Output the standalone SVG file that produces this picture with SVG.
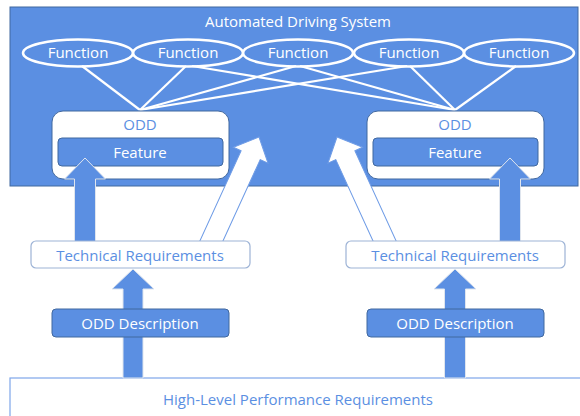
<svg xmlns="http://www.w3.org/2000/svg" width="580" height="416" viewBox="0 0 580 416">
<style>
text{font-family:"Open Sans","Noto Sans","Liberation Sans",sans-serif;font-size:15px;text-anchor:middle}
.w{fill:#ffffff}
.b{fill:#5B8FE2}
.fn{fill:none;stroke:#ffffff;stroke-width:2.5}
.ln{stroke:#ffffff;stroke-width:2.2;fill:none}
.odd{fill:#ffffff;stroke:#41689f;stroke-width:1}
.feat{fill:#5B8FE2;stroke:#41689f;stroke-width:1}
.treq{fill:#ffffff;stroke:#9db3d6;stroke-width:1.2}
.barr{fill:#5B8FE2;stroke:#dfe5ee;stroke-width:1}
.warr{fill:#ffffff;stroke:#6f9ce6;stroke-width:1}
</style>
<g id="ads">
<rect x="10" y="7" width="568" height="179" fill="#5B8FE2" stroke="#41689f" stroke-width="1"/>
<text x="298" y="27" class="w">Automated Driving System</text>
</g>
<g id="hlpr">
<rect x="10" y="378" width="580" height="50" fill="#ffffff" stroke="#7ea6ea" stroke-width="1.2"/>
<text x="298" y="405" class="b">High-Level Performance Requirements</text>
</g>
<g id="connectors">
<line class="ln" x1="82" y1="66" x2="140" y2="110"/>
<line class="ln" x1="186" y1="66" x2="140" y2="110"/>
<line class="ln" x1="296" y1="66" x2="140" y2="110"/>
<line class="ln" x1="407" y1="66" x2="140" y2="110"/>
<line class="ln" x1="192" y1="66" x2="455" y2="110"/>
<line class="ln" x1="300" y1="66" x2="455" y2="110"/>
<line class="ln" x1="410" y1="66" x2="455" y2="110"/>
<line class="ln" x1="516" y1="66" x2="455" y2="110"/>
</g>
<g id="func1"><ellipse class="fn" cx="78" cy="53" rx="55" ry="13.5"/><text x="78" y="58" class="w">Function</text></g>
<g id="func2"><ellipse class="fn" cx="188" cy="53" rx="55" ry="13.5"/><text x="188" y="58" class="w">Function</text></g>
<g id="func3"><ellipse class="fn" cx="298" cy="53" rx="55" ry="13.5"/><text x="298" y="58" class="w">Function</text></g>
<g id="func4"><ellipse class="fn" cx="409" cy="53" rx="55" ry="13.5"/><text x="409" y="58" class="w">Function</text></g>
<g id="func5"><ellipse class="fn" cx="519" cy="53" rx="55" ry="13.5"/><text x="519" y="58" class="w">Function</text></g>
<g id="odd1">
<rect class="odd" x="52" y="111" width="177" height="68" rx="11"/>
<text x="140" y="130" class="b">ODD</text>
<rect class="feat" x="58" y="138" width="165" height="28" rx="4"/>
<text x="140" y="158" class="w">Feature</text>
</g>
<g id="odd2">
<rect class="odd" x="367" y="111" width="177" height="68" rx="11"/>
<text x="455" y="130" class="b">ODD</text>
<rect class="feat" x="373" y="138" width="165" height="28" rx="4"/>
<text x="455" y="158" class="w">Feature</text>
</g>
<g id="arrows">
<polygon class="barr" points="85,158 105.5,179 95.5,179 95.5,242 74.5,242 74.5,179 64.5,179"/>
<polygon class="barr" points="510,158 530.5,179 520.5,179 520.5,242 499.5,242 499.5,179 489.5,179"/>
<polygon class="barr" points="133,269 154,289 143,289 143,378 123,378 123,289 112,289"/>
<polygon class="barr" points="455,269 476,289 465.5,289 465.5,378 444.5,378 444.5,289 434,289"/>
<polygon class="warr" transform="translate(259,137) rotate(24.6)" points="0,0 19,20 10.5,20 10.5,120 -10.5,120 -10.5,20 -19,20"/>
<polygon class="warr" transform="translate(337,137) rotate(-24.6)" points="0,0 19,20 10.5,20 10.5,120 -10.5,120 -10.5,20 -19,20"/>
</g>
<g id="treq1">
<rect class="treq" x="31" y="241" width="219" height="27" rx="5"/>
<text x="140" y="261" class="b">Technical Requirements</text>
</g>
<g id="treq2">
<rect class="treq" x="346" y="241" width="219" height="27" rx="5"/>
<text x="455" y="261" class="b">Technical Requirements</text>
</g>
<g id="odddesc1">
<rect class="feat" x="52" y="309" width="177" height="28" rx="4"/>
<text x="140" y="329" class="w">ODD Description</text>
</g>
<g id="odddesc2">
<rect class="feat" x="367" y="309" width="177" height="28" rx="4"/>
<text x="455" y="329" class="w">ODD Description</text>
</g>
</svg>
